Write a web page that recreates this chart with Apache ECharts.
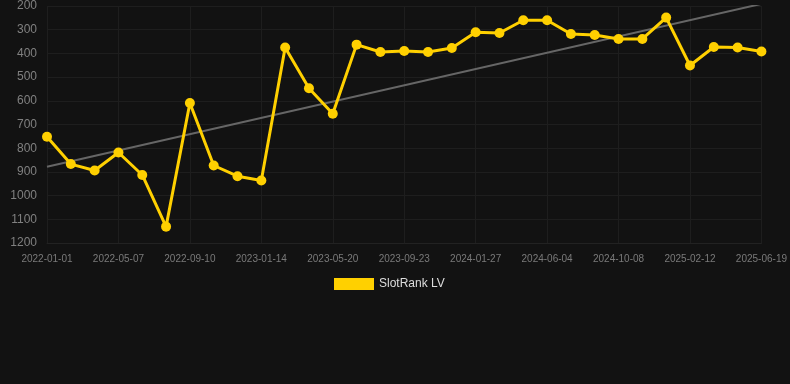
<!DOCTYPE html>
<html><head><meta charset="utf-8">
<script src="https://cdn.jsdelivr.net/npm/echarts@6/dist/echarts.min.js"></script>
<style>html,body{margin:0;padding:0;background:#121212}#c{width:790px;height:384px}</style>
</head><body><div id="c"></div>
<script>
const dates = ['2022-01-01','2022-02-12','2022-03-26','2022-05-07','2022-06-18','2022-07-30','2022-09-10','2022-10-22','2022-12-03','2023-01-14','2023-02-25','2023-04-08','2023-05-20','2023-07-01','2023-08-12','2023-09-23','2023-11-04','2023-12-16','2024-01-27','2024-03-09','2024-04-23','2024-06-04','2024-07-16','2024-08-27','2024-10-08','2024-11-19','2024-12-31','2025-02-12','2025-03-26','2025-05-07','2025-06-19'];
const rankLV = [752,867,894,818,913,1131,609,873,918,936,375,547,655,363,394,390,394,377,311,314,260,260,318,322,339,339,249,451,373,375,392];
const trendStart = 878;
const trendEnd = 191;
const yTicks = {min:200, max:1200, step:100};

const chart = echarts.init(document.getElementById('c'));
chart.setOption({
  backgroundColor:'#121212',
  animation:false,
  grid:{left:47,right:28,top:6,bottom:141,containLabel:false},
  legend:{show:true,top:273,left:329,itemWidth:40,itemHeight:12,itemGap:10,
    textStyle:{color:'#dddddd',fontSize:12,fontFamily:'Arial, Liberation Sans, sans-serif'},
    data:[{name:'SlotRank LV',icon:'rect'}]},
  xAxis:{type:'category',data:dates,boundaryGap:false,
    axisLine:{lineStyle:{color:'#222222'}},axisTick:{show:false},
    axisLabel:{interval:2,color:'#7a7a7a',fontSize:10,margin:11,fontFamily:'Arial, Liberation Sans, sans-serif'},
    splitLine:{show:true,interval:2,lineStyle:{color:'#1e1e1e'}}},
  yAxis:{type:'value',inverse:true,min:yTicks.min,max:yTicks.max,interval:yTicks.step,
    axisLine:{show:false},axisTick:{show:false},
    axisLabel:{color:'#808080',fontSize:12,margin:10,formatter:v=>String(v),fontFamily:'Arial, Liberation Sans, sans-serif'},
    splitLine:{lineStyle:{color:'#1e1e1e'}}},
  series:[
    {name:'SlotRank LV',type:'line',data:rankLV,symbol:'circle',symbolSize:10,
      itemStyle:{color:'#ffd000'},lineStyle:{color:'#ffd000',width:3},z:3},
    {name:'trend',type:'line',data:[[dates[0],trendStart],[dates[dates.length-1],trendEnd]],
      symbol:'none',lineStyle:{color:'#666666',width:2},z:2,silent:true}
  ]
});
</script></body></html>
